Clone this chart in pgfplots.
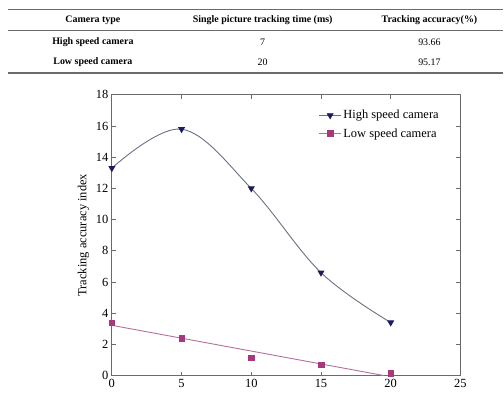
\documentclass[border=0pt]{standalone}
\usepackage{pgfplots}
\pgfplotsset{compat=1.18}
\usepackage{fontspec}
\setmainfont{Liberation Serif}
\definecolor{hsline}{HTML}{6E6E82}
\definecolor{hsmark}{HTML}{1C1C5C}
\definecolor{lsline}{HTML}{B4709C}
\definecolor{lsmark}{HTML}{A8387E}
\definecolor{rulec}{HTML}{6A6A6A}
\begin{document}
\begin{tikzpicture}
\path (0bp,0bp) rectangle (504bp,-396bp);
% table
\draw[rulec, line width=1.3bp] (8bp,-9.5bp) -- (504bp,-9.5bp);
\draw[rulec, line width=0.9bp] (8bp,-30bp) -- (504bp,-30bp);
\draw[rulec, line width=1.3bp] (8bp,-73bp) -- (504bp,-73bp);
\begin{scope}[every node/.style={font=\fontsize{10}{12}\selectfont, inner sep=0pt}]
\node at (93bp,-20.5bp) {\textbf{Camera type}};
\node at (263bp,-20.5bp) {\textbf{Single picture tracking time (ms)}};
\node at (430bp,-20.5bp) {\textbf{Tracking accuracy(\%)}};
\node at (93bp,-42.5bp) {\textbf{High speed camera}};
\node at (263bp,-42.5bp) {7};
\node at (430bp,-42.5bp) {93.66};
\node at (93bp,-62.5bp) {\textbf{Low speed camera}};
\node at (263bp,-62.5bp) {20};
\node at (430bp,-62.5bp) {95.17};
\end{scope}
\begin{axis}[
  at={(112bp,-376bp)}, anchor=south west,
  scale only axis, width=349bp, height=281bp,
  xmin=0, xmax=25, ymin=0, ymax=18,
  xtick={0,5,10,15,20,25}, ytick={0,2,...,18},
  tick align=inside, major tick length=4bp,
  axis line style={rulec, line width=0.9bp},
  every tick/.style={rulec, line width=0.8bp},
  tick label style={font=\fontsize{12.5}{12}\selectfont},
  /pgf/number format/assume math mode=true,
  ylabel={Tracking accuracy index},
  ylabel style={font=\fontsize{12.5}{14}\selectfont},
  legend style={draw=none, fill=none, at={(0.585,0.96)}, anchor=north west,
    font=\fontsize{12.5}{14}\selectfont, row sep=4bp},
  legend cell align=left,
  legend image code/.code={\draw[mark repeat=2,mark phase=2] plot coordinates {(0cm,0cm) (0.38cm,0cm) (0.76cm,0cm)};},
]
\addplot[hsline, line width=0.9bp, smooth, tension=0.6, mark=triangle*, mark size=3.2bp,
  mark options={rotate=180, fill=hsmark, draw=hsmark}]
  coordinates {(0,13.3) (5,15.8) (10,12.0) (15,6.6) (20,3.4)};
\addlegendentry{High speed camera}
\addplot[lsline, line width=0.9bp, forget plot] coordinates {(0,3.22) (19.5,0)};
\addplot[only marks, mark=square*, mark size=2.8bp, mark options={fill=lsmark, draw=lsmark}, forget plot]
  coordinates {(0,3.4) (5,2.4) (10,1.15) (15,0.7) (20,0.15)};
\addlegendimage{lsline, line width=0.9bp, mark=square*, mark size=2.8bp, mark options={fill=lsmark, draw=lsmark}}
\addlegendentry{Low speed camera}
\end{axis}
\end{tikzpicture}
\end{document}
